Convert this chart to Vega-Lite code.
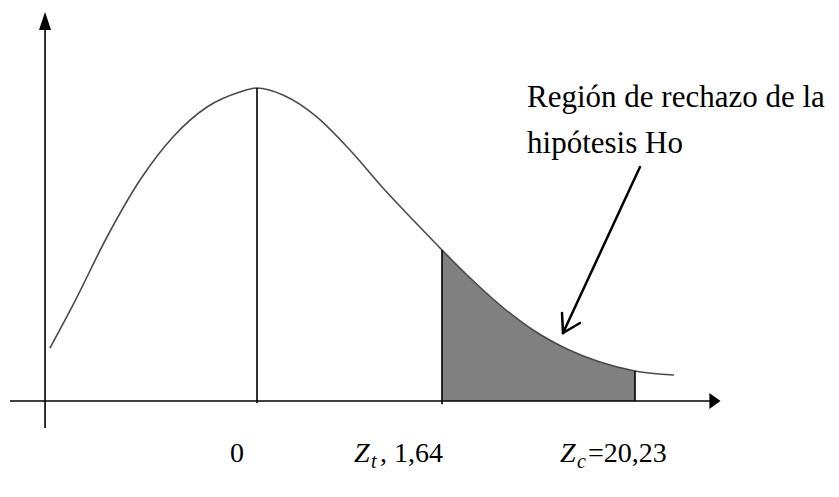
{
  "$schema": "https://vega.github.io/schema/vega-lite/v6.json",
  "width": 839,
  "height": 497,
  "autosize": {"type": "fit", "contains": "padding"},
  "padding": 0,
  "background": "white",
  "config": {"view": {"stroke": null}},
  "datasets": {
    "curve": [
      {"x": -1.835, "y": 0.0677},
      {"x": -1.631, "y": 0.1227},
      {"x": -1.330, "y": 0.2096},
      {"x": -1.037, "y": 0.2824},
      {"x": -0.745, "y": 0.3374},
      {"x": -0.443, "y": 0.3757},
      {"x": -0.151, "y": 0.3949},
      {"x": 0.0, "y": 0.4},
      {"x": 0.230, "y": 0.3911},
      {"x": 0.532, "y": 0.3629},
      {"x": 0.824, "y": 0.3208},
      {"x": 1.117, "y": 0.2722},
      {"x": 1.418, "y": 0.2262},
      {"x": 1.640, "y": 0.1930},
      {"x": 1.862, "y": 0.1610},
      {"x": 2.154, "y": 0.1227},
      {"x": 2.447, "y": 0.0907},
      {"x": 2.748, "y": 0.0665},
      {"x": 3.041, "y": 0.0498},
      {"x": 3.351, "y": 0.0383},
      {"x": 3.697, "y": 0.0332}
    ],
    "shade": [
      {"x": 1.640, "y": 0.1930},
      {"x": 1.862, "y": 0.1610},
      {"x": 2.154, "y": 0.1227},
      {"x": 2.447, "y": 0.0907},
      {"x": 2.748, "y": 0.0665},
      {"x": 3.041, "y": 0.0498},
      {"x": 3.351, "y": 0.0383}
    ]
  },
  "layer": [
    {
      "data": {"name": "shade"},
      "mark": {"type": "area", "color": "#808080", "interpolate": "monotone", "opacity": 1},
      "encoding": {
        "x": {"field": "x", "type": "quantitative", "scale": {"domain": [-2.2784, 5.1596], "nice": false, "zero": false}, "axis": null},
        "y": {"field": "y", "type": "quantitative", "scale": {"domain": [-0.1227, 0.5125], "nice": false, "zero": false}, "axis": null},
        "y2": {"datum": 0}
      }
    },
    {
      "data": {"name": "curve"},
      "mark": {"type": "line", "color": "#4a4a4a", "strokeWidth": 1.6, "interpolate": "monotone"},
      "encoding": {
        "x": {"field": "x", "type": "quantitative", "scale": {"domain": [-2.2784, 5.1596], "nice": false, "zero": false}, "axis": null},
        "y": {"field": "y", "type": "quantitative", "scale": {"domain": [-0.1227, 0.5125], "nice": false, "zero": false}, "axis": null}
      }
    },
    {
      "data": {"values": [
        {"x": -2.190, "y": 0.0, "x2": 4.016, "y2": 0.0},
        {"x": -1.879, "y": -0.0345, "x2": -1.879, "y2": 0.4754},
        {"x": 0.0, "y": -0.0026, "x2": 0.0, "y2": 0.4},
        {"x": 1.640, "y": -0.004, "x2": 1.640, "y2": 0.1930},
        {"x": 3.351, "y": 0.0, "x2": 3.351, "y2": 0.0383}
      ]},
      "mark": {"type": "rule", "color": "black", "strokeWidth": 1.6},
      "encoding": {
        "x": {"field": "x", "type": "quantitative", "scale": {"domain": [-2.2784, 5.1596], "nice": false, "zero": false}, "axis": null},
        "y": {"field": "y", "type": "quantitative", "scale": {"domain": [-0.1227, 0.5125], "nice": false, "zero": false}, "axis": null},
        "x2": {"field": "x2"},
        "y2": {"field": "y2"}
      }
    },
    {
      "data": {"values": [
        {"x": 3.395, "y": 0.2990, "x2": 2.713, "y2": 0.0869},
        {"x": 2.704, "y": 0.1125, "x2": 2.713, "y2": 0.0869},
        {"x": 2.863, "y": 0.0997, "x2": 2.713, "y2": 0.0869}
      ]},
      "mark": {"type": "rule", "color": "black", "strokeWidth": 2.5, "strokeCap": "round"},
      "encoding": {
        "x": {"field": "x", "type": "quantitative", "scale": {"domain": [-2.2784, 5.1596], "nice": false, "zero": false}, "axis": null},
        "y": {"field": "y", "type": "quantitative", "scale": {"domain": [-0.1227, 0.5125], "nice": false, "zero": false}, "axis": null},
        "x2": {"field": "x2"},
        "y2": {"field": "y2"}
      }
    },
    {
      "data": {"values": [{"x": 4.060, "y": 0.0}]},
      "mark": {"type": "point", "shape": "M-0.7,-1L0.7,0L-0.7,1Z", "size": 256, "filled": true, "color": "black", "opacity": 1},
      "encoding": {
        "x": {"field": "x", "type": "quantitative", "scale": {"domain": [-2.2784, 5.1596], "nice": false, "zero": false}, "axis": null},
        "y": {"field": "y", "type": "quantitative", "scale": {"domain": [-0.1227, 0.5125], "nice": false, "zero": false}, "axis": null}
      }
    },
    {
      "data": {"values": [{"x": -1.879, "y": 0.4856}]},
      "mark": {"type": "point", "shape": "M0,-1L0.67,1L-0.67,1Z", "size": 324, "filled": true, "color": "black", "opacity": 1},
      "encoding": {
        "x": {"field": "x", "type": "quantitative", "scale": {"domain": [-2.2784, 5.1596], "nice": false, "zero": false}, "axis": null},
        "y": {"field": "y", "type": "quantitative", "scale": {"domain": [-0.1227, 0.5125], "nice": false, "zero": false}, "axis": null}
      }
    },
    {
      "data": {"values": [
        {"x": 2.394, "y": 0.3757, "label": "Región de rechazo de la"},
        {"x": 2.394, "y": 0.3169, "label": "hipótesis Ho"}
      ]},
      "mark": {"type": "text", "font": "Liberation Serif", "fontSize": 31, "align": "left", "baseline": "alphabetic", "color": "black"},
      "encoding": {
        "x": {"field": "x", "type": "quantitative", "scale": {"domain": [-2.2784, 5.1596], "nice": false, "zero": false}, "axis": null},
        "y": {"field": "y", "type": "quantitative", "scale": {"domain": [-0.1227, 0.5125], "nice": false, "zero": false}, "axis": null},
        "text": {"field": "label"}
      }
    },
    {
      "data": {"values": [
        {"x": -0.239, "y": -0.0780, "label": "0"},
        {"x": 1.090, "y": -0.0780, "label": ", 1,64"},
        {"x": 2.934, "y": -0.0780, "label": "=20,23"}
      ]},
      "mark": {"type": "text", "font": "Liberation Serif", "fontSize": 28, "align": "left", "baseline": "alphabetic", "color": "black"},
      "encoding": {
        "x": {"field": "x", "type": "quantitative", "scale": {"domain": [-2.2784, 5.1596], "nice": false, "zero": false}, "axis": null},
        "y": {"field": "y", "type": "quantitative", "scale": {"domain": [-0.1227, 0.5125], "nice": false, "zero": false}, "axis": null},
        "text": {"field": "label"}
      }
    },
    {
      "data": {"values": [
        {"x": 0.860, "y": -0.0780, "label": "Z"},
        {"x": 2.686, "y": -0.0780, "label": "Z"}
      ]},
      "mark": {"type": "text", "font": "Liberation Serif", "fontSize": 28, "fontStyle": "italic", "align": "left", "baseline": "alphabetic", "color": "black"},
      "encoding": {
        "x": {"field": "x", "type": "quantitative", "scale": {"domain": [-2.2784, 5.1596], "nice": false, "zero": false}, "axis": null},
        "y": {"field": "y", "type": "quantitative", "scale": {"domain": [-0.1227, 0.5125], "nice": false, "zero": false}, "axis": null},
        "text": {"field": "label"}
      }
    },
    {
      "data": {"values": [
        {"x": 1.011, "y": -0.0856, "label": "t"},
        {"x": 2.837, "y": -0.0856, "label": "c"}
      ]},
      "mark": {"type": "text", "font": "Liberation Serif", "fontSize": 20, "fontStyle": "italic", "align": "left", "baseline": "alphabetic", "color": "black"},
      "encoding": {
        "x": {"field": "x", "type": "quantitative", "scale": {"domain": [-2.2784, 5.1596], "nice": false, "zero": false}, "axis": null},
        "y": {"field": "y", "type": "quantitative", "scale": {"domain": [-0.1227, 0.5125], "nice": false, "zero": false}, "axis": null},
        "text": {"field": "label"}
      }
    }
  ]
}
